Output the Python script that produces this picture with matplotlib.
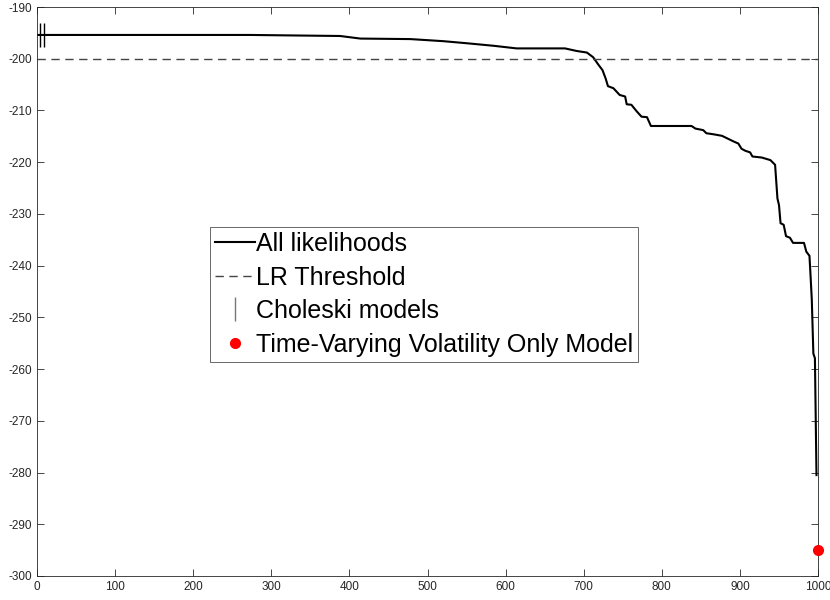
import matplotlib.pyplot as plt

plt.rcParams["font.family"] = ["Liberation Sans", "DejaVu Sans"]
plt.rcParams["axes.unicode_minus"] = False

# sorted likelihoods
lik_x = [1, 100, 200, 273, 330, 388, 414, 478, 520, 550, 585, 614, 644, 676,
         691, 704, 712, 719, 724, 728, 731, 738, 746, 753, 755, 761, 768, 774, 781, 786,
         838, 843, 853, 857, 866, 877, 892, 898, 902, 907, 913, 916, 928, 939, 945, 948,
         950, 952, 956, 959, 964, 968, 982, 985, 989, 990, 992, 994, 996, 998]
lik_y = [-195.4, -195.4, -195.4, -195.4, -195.5, -195.6, -196.1, -196.2, -196.6, -197.0,
         -197.5, -198.0, -198.0, -198.0, -198.5, -198.8, -199.7, -201.2,
         -202.2, -203.8, -205.3, -205.7, -207.0, -207.3, -208.8, -208.9, -210.2, -211.2,
         -211.3, -213.0, -213.0, -213.5, -213.8, -214.4, -214.6, -214.9, -216.0, -216.4,
         -217.4, -217.8, -218.1, -218.9, -219.1, -219.6, -220.5, -227.0, -228.3, -231.8,
         -232.1, -234.3, -234.6, -235.6, -235.6, -237.3, -238.1, -240.8, -246.6, -257.0,
         -257.9, -280.5]
threshold = -200
chol_x = [4, 9]
chol_y = [-195.4, -195.4]
tvv_x = [1000]
tvv_y = [-295]

fig = plt.figure(figsize=(8.3, 6), dpi=100)
ax = fig.add_axes([0.0446, 0.04, 0.941, 0.9483])

ax.plot(lik_x, lik_y, color="k", lw=1.5, label="All likelihoods")
ax.axhline(threshold, color="#444444", lw=1, ls=(0, (6, 4)), label="LR Threshold")
ax.plot(chol_x, chol_y, ls="none", marker="|", ms=17, mew=1, color="k", label="Choleski models")
ax.plot(tvv_x, tvv_y, ls="none", marker="o", ms=7, color="red", label="Time-Varying Volatility Only Model",
        clip_on=False, zorder=5)

ax.set_xlim(0, 1000)
ax.set_ylim(-300, -190)
ax.set_xticks(range(0, 1001, 100))
ax.set_yticks(range(-300, -189, 10))
ax.tick_params(direction="in", length=5, width=0.6, labelsize=8.5, colors="#262626",
               top=True, right=True)
for s in ax.spines.values():
    s.set_color("#262626")
    s.set_linewidth(0.6)

leg = ax.legend(loc="upper left", bbox_to_anchor=(0.2215, 0.613), fontsize=18,
                frameon=True, fancybox=False, edgecolor="#262626", handlelength=1.6,
                handletextpad=0.05, borderpad=0.2, labelspacing=0.38, borderaxespad=0)
leg.get_frame().set_linewidth(0.6)
leg.legend_handles[2].set_color("#777777")

fig.savefig("out.png", dpi=100)
